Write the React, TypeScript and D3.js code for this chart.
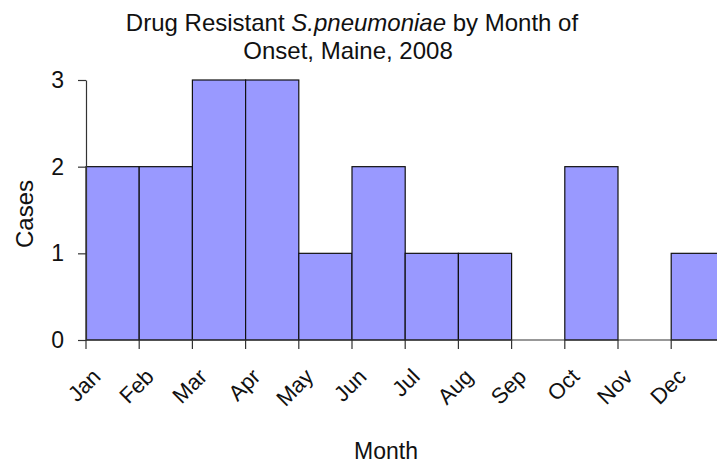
import { useRef, useEffect } from 'react';
import * as d3 from 'd3';

const months = ['Jan', 'Feb', 'Mar', 'Apr', 'May', 'Jun', 'Jul', 'Aug', 'Sep', 'Oct', 'Nov', 'Dec'];
const cases = [2, 2, 3, 3, 1, 2, 1, 1, 0, 2, 0, 1];
const yTicks = [0, 1, 2, 3];

export default function App() {
    const chartRef = useRef<SVGSVGElement>(null);

    useEffect(() => {
        if (!chartRef.current) return;
        const svg = d3.select(chartRef.current);
        svg.selectAll('*').remove();

        const width = 717;
        const height = 464;
        const margin = { top: 80, left: 86, bottom: 124 };
        const plotBottom = height - margin.bottom;
        const font = 'Liberation Sans, Arial, sans-serif';

        const data = months.map((m, i) => ({ month: m, value: cases[i] }));

        // Scales
        const x = d3.scaleBand()
            .domain(months)
            .range([margin.left, margin.left + 12 * 53.2])
            .padding(0);

        const y = d3.scaleLinear()
            .domain([0, 3])
            .range([plotBottom, margin.top]);

        svg.attr('width', width).attr('height', height);

        // Title
        const title = svg.append('text')
            .attr('x', 352)
            .attr('y', 31)
            .attr('text-anchor', 'middle')
            .attr('font-family', font)
            .attr('font-size', '24px')
            .attr('fill', '#111');
        title.append('tspan').text('Drug Resistant ');
        title.append('tspan').attr('font-style', 'italic').text('S.pneumoniae');
        title.append('tspan').text('  by Month of');

        svg.append('text')
            .attr('x', 348)
            .attr('y', 59)
            .attr('text-anchor', 'middle')
            .attr('font-family', font)
            .attr('font-size', '24px')
            .attr('fill', '#111')
            .text('Onset, Maine, 2008');

        // Bars
        svg.selectAll('.bar')
            .data(data.filter(d => d.value > 0))
            .enter()
            .append('rect')
            .attr('x', d => x(d.month)!)
            .attr('y', d => y(d.value))
            .attr('width', x.bandwidth())
            .attr('height', d => plotBottom - y(d.value))
            .attr('fill', '#9999ff')
            .attr('stroke', '#111')
            .attr('stroke-width', 1.2);

        // Y axis
        const yAxis = svg.append('g')
            .attr('transform', `translate(${margin.left},0)`)
            .call(d3.axisLeft(y).tickValues(yTicks).tickFormat(d3.format('d')).tickSize(8).tickSizeOuter(0));
        yAxis.selectAll('text')
            .attr('font-family', font)
            .attr('font-size', '23px')
            .attr('fill', '#111')
            .attr('x', -22);
        yAxis.selectAll('.domain, .tick line').attr('stroke', '#333').attr('stroke-width', 1.2);

        // X axis (ticks at category boundaries)
        const xg = svg.append('g');
        xg.append('line')
            .attr('x1', margin.left)
            .attr('x2', width)
            .attr('y1', plotBottom)
            .attr('y2', plotBottom)
            .attr('stroke', '#333')
            .attr('stroke-width', 1.2);
        xg.selectAll('.tick')
            .data(months)
            .enter()
            .append('line')
            .attr('x1', d => x(d)!)
            .attr('x2', d => x(d)!)
            .attr('y1', plotBottom)
            .attr('y2', plotBottom + 9)
            .attr('stroke', '#333')
            .attr('stroke-width', 1.2);
        xg.selectAll('.label')
            .data(months)
            .enter()
            .append('text')
            .attr('transform', d => `translate(${x(d)! + 16},${plotBottom + 38}) rotate(-45)`)
            .attr('text-anchor', 'end')
            .attr('font-family', font)
            .attr('font-size', '22px')
            .attr('fill', '#111')
            .text(d => d);

        // Axis titles
        svg.append('text')
            .attr('x', 386)
            .attr('y', 459)
            .attr('text-anchor', 'middle')
            .attr('font-family', font)
            .attr('font-size', '23px')
            .attr('fill', '#111')
            .text('Month');

        svg.append('text')
            .attr('transform', `translate(33,214) rotate(-90)`)
            .attr('text-anchor', 'middle')
            .attr('font-family', font)
            .attr('font-size', '24px')
            .attr('fill', '#111')
            .text('Cases');
    }, []);

    return (
        <div style={{ position: 'fixed', left: 0, top: 0, background: '#fff' }}>
            <svg ref={chartRef} style={{ display: 'block' }}></svg>
        </div>
    );
}
